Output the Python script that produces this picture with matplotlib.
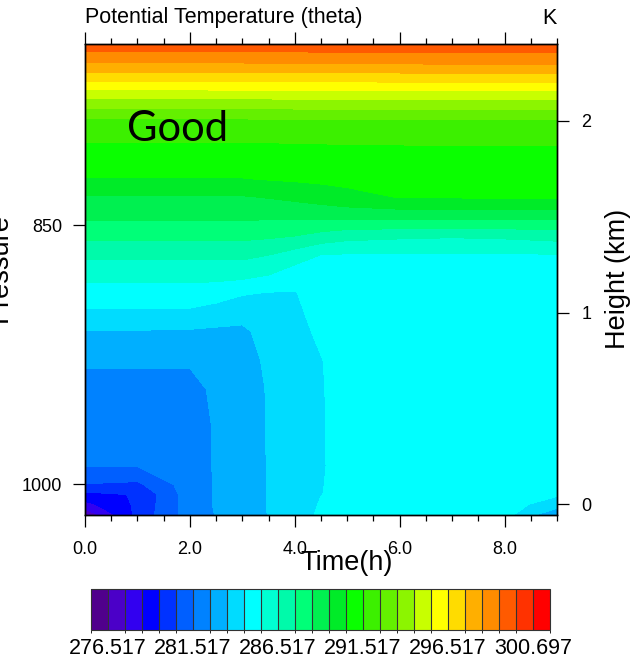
import matplotlib
matplotlib.use("Agg")
import matplotlib as mpl
import matplotlib.pyplot as plt
import numpy as np
from matplotlib.colors import ListedColormap, BoundaryNorm
from matplotlib.ticker import MultipleLocator

plt.rcParams['font.family'] = ['Liberation Sans', 'DejaVu Sans']

# ---------------- data ----------------
times = [0, 1, 2, 2.5, 3, 3.5, 4, 4.5, 5, 6, 7, 8, 9]          # hours
heights = [-0.06, 0.0, 0.05, 0.1, 0.2, 0.4, 0.6, 0.75, 0.9, 1.0, 1.1, 1.2,
           1.3, 1.4, 1.5, 1.6, 1.7, 1.8, 1.9, 2.0, 2.1, 2.2, 2.3, 2.41]  # km

theta_m006 = [276.6, 279.8, 282.0, 282.55, 282.9, 283.55, 284.0, 284.7, 284.7, 284.7, 284.7, 284.9, 282.4]
theta_000 = [278.24, 279.7, 282.02, 282.6, 283.0, 283.57, 283.95, 284.6, 284.72, 284.72, 284.72, 284.8, 284.2]
theta_005 = [279.2, 279.6, 282.05, 282.6, 283.0, 283.57, 283.9, 284.5, 284.75, 284.75, 284.75, 284.8, 284.6]
theta_010 = [280.45, 280.3, 282.05, 282.6, 283.0, 283.57, 283.9, 284.48, 284.78, 284.78, 284.78, 284.8, 284.75]
theta_020 = [281.54, 281.55, 282.08, 282.6, 283.0, 283.57, 283.9, 284.45, 284.8, 284.8, 284.8, 284.82, 284.8]
theta_040 = [281.92, 281.92, 282.1, 282.6, 283.0, 283.58, 283.95, 284.45, 284.85, 284.85, 284.85, 284.85, 284.85]
theta_060 = [282.3, 282.3, 282.3, 282.65, 283.0, 283.6, 284.0, 284.45, 284.9, 284.9, 284.9, 284.9, 284.9]
theta_075 = [282.6, 282.6, 282.6, 282.85, 283.1, 283.7, 284.1, 284.48, 284.95, 284.95, 284.95, 284.95, 284.95]
theta_090 = [283.45, 283.45, 283.4, 283.35, 283.35, 283.85, 284.2, 284.7, 285.0, 285.0, 285.0, 285.0, 285.0]
theta_100 = [284.34, 284.34, 284.34, 284.06, 283.82, 284.1, 284.3, 284.9, 285.05, 285.05, 285.05, 285.05, 285.05]
theta_110 = [285.10, 285.10, 285.10, 284.98, 284.6, 284.45, 284.45, 285.08, 285.15, 285.15, 285.15, 285.15, 285.15]
theta_120 = [285.86, 285.86, 285.86, 285.86, 285.86, 285.56, 285.0, 285.29, 285.25, 285.25, 285.25, 285.25, 285.25]
theta_130 = [286.74, 286.74, 286.74, 286.74, 286.74, 286.52, 286.06, 285.49, 285.42, 285.42, 285.43, 285.42, 285.45]
theta_140 = [287.77, 287.77, 287.77, 287.77, 287.77, 287.68, 287.52, 287.18, 286.88, 286.72, 286.63, 286.72, 286.92]
theta_150 = [288.68, 288.68, 288.68, 288.68, 288.68, 288.68, 288.71, 288.74, 288.78, 288.85, 288.84, 288.84, 288.84]
theta_160 = [289.41, 289.41, 289.41, 289.41, 289.41, 289.55, 289.72, 289.95, 290.21, 290.54, 290.55, 290.56, 290.56]
theta_170 = [290.50, 290.50, 290.50, 290.50, 290.50, 290.61, 290.68, 290.75, 290.80, 290.85, 290.87, 290.88, 290.88]
theta_180 = [291.00, 291.00, 291.00, 291.02, 291.04, 291.06, 291.10, 291.13, 291.16, 291.18, 291.20, 291.20, 291.20]
theta_190 = [291.58, 291.58, 291.58, 291.58, 291.58, 291.59, 291.60, 291.61, 291.62, 291.63, 291.64, 291.64, 291.64]
theta_200 = [292.30, 292.30, 292.30, 292.31, 292.32, 292.34, 292.36, 292.38, 292.40, 292.42, 292.42, 292.42, 292.42]
theta_210 = [294.15, 294.15, 294.15, 294.16, 294.17, 294.19, 294.21, 294.23, 294.25, 294.28, 294.28, 294.28, 294.28]
theta_220 = [296.35, 296.35, 296.35, 296.36, 296.37, 296.38, 296.40, 296.42, 296.43, 296.45, 296.45, 296.45, 296.45]
theta_230 = [298.45, 298.45, 298.45, 298.46, 298.47, 298.48, 298.50, 298.52, 298.54, 298.56, 298.58, 298.58, 298.58]
theta_241 = [300.30, 300.30, 300.30, 300.31, 300.32, 300.33, 300.34, 300.36, 300.38, 300.40, 300.40, 300.40, 300.40]

levels = [276.517, 277.517, 278.517, 279.517, 280.517, 281.517, 282.517, 283.517,
          284.517, 285.517, 286.517, 287.517, 288.517, 289.517, 290.517, 291.517,
          292.517, 293.517, 294.517, 295.517, 296.517, 297.517, 298.517, 299.517,
          300.517, 300.697]
cbar_ticks = [276.517, 281.517, 286.517, 291.517, 296.517, 300.697]
cbar_ticklabels = ["276.517", "281.517", "286.517", "291.517", "296.517", "300.697"]

x_ticks = [0, 2, 4, 6, 8]
x_ticklabels = ["0.0", "2.0", "4.0", "6.0", "8.0"]
pressure_ticks = [1000, 850]
pressure_ticklabels = ["1000", "850"]
height_ticks = [0, 1, 2]
height_ticklabels = ["0", "1", "2"]

box_colors = ["#50008c", "#4b00c8", "#3200f0", "#0000ff", "#0032ff", "#005fff",
              "#0082ff", "#00afff", "#00dcff", "#00ffff", "#00ffd2", "#00faaa",
              "#00ff78", "#00f050", "#00eb28", "#0aff00", "#3cf000", "#64f000",
              "#8cf500", "#c8ff00", "#ffff00", "#ffdc00", "#ffaf00", "#ff8c00",
              "#ff5a00", "#ff3200", "#ff0000"]

theta = np.array([theta_m006, theta_000, theta_005, theta_010, theta_020, theta_040,
                  theta_060, theta_075, theta_090, theta_100, theta_110, theta_120,
                  theta_130, theta_140, theta_150, theta_160, theta_170, theta_180,
                  theta_190, theta_200, theta_210, theta_220, theta_230, theta_241])

# pressure <-> height (scale-height relation)
P0, H = 1012.57, 8.325
def z_of_p(p):
    return H * np.log(P0 / np.asarray(p, dtype=float))

W, Hpx = 630, 661
fig = plt.figure(figsize=(W / 100, Hpx / 100), dpi=100)
ax = fig.add_axes([85 / W, 1 - 515 / Hpx, 472 / W, 471 / Hpx])

ax.contourf(times, heights, theta, levels=levels, colors=box_colors[1:26])
ax.set_xlim(0, 9)
ax.set_ylim(-0.057, 2.402)

ax.set_xticks(x_ticks)
ax.set_xticklabels(x_ticklabels)
ax.xaxis.set_minor_locator(MultipleLocator(0.5))
ax.tick_params(axis='x', which='major', direction='out', length=8.5, width=0.9,
               top=True, bottom=True, labeltop=False, labelsize=13, pad=10)
ax.tick_params(axis='x', which='minor', direction='out', length=4.3, width=0.9,
               top=True, bottom=True)

ax.set_yticks(z_of_p(pressure_ticks))
ax.set_yticklabels(pressure_ticklabels)
ax.tick_params(axis='y', which='major', direction='out', length=8.5, width=0.9,
               left=True, right=False, labelsize=13, pad=8)

ax2 = ax.twinx()
ax2.set_ylim(ax.get_ylim())
ax2.set_yticks(height_ticks)
ax2.set_yticklabels(height_ticklabels)
ax2.tick_params(axis='y', which='major', direction='out', length=8.5, width=0.9,
                left=False, right=True, labelleft=False, labelright=True,
                labelsize=13, pad=9)
for a in (ax, ax2):
    for s in a.spines.values():
        s.set_linewidth(1.0)

# texts
fig.text(85 / W, 1 - 18 / Hpx, "Potential Temperature (theta)", fontsize=15.5,
         ha='left', va='center')
fig.text(557 / W, 1 - 18 / Hpx, "K", fontsize=15.5, ha='right', va='center')
fig.text(127 / W, 1 - 141 / Hpx, "Good", fontsize=30, family=['Lato', 'DejaVu Sans'],
         ha='left', va='baseline')
fig.text(347 / W, 1 - 563 / Hpx, "Time(h)", fontsize=19.5, ha='center', va='center')
fig.text(618 / W, 1 - 279 / Hpx, "Height (km)", fontsize=19.5, rotation=90,
         ha='center', va='center')
fig.text(13 / W, 1 - 268 / Hpx, "Pressure", fontsize=19.5, rotation=90,
         ha='right', va='center')

# colorbar
cax = fig.add_axes([91 / W, 1 - 630 / Hpx, 459 / W, 41 / Hpx])
bounds = [275.517] + levels + [301.697]
cb = mpl.colorbar.ColorbarBase(cax, cmap=ListedColormap(box_colors),
                               norm=BoundaryNorm(bounds, len(box_colors)),
                               boundaries=bounds, spacing='uniform',
                               orientation='horizontal', drawedges=True,
                               ticks=cbar_ticks)
cb.ax.set_xticklabels(cbar_ticklabels)
cb.ax.tick_params(length=0, labelsize=15.5, pad=6)
cb.dividers.set_color('#333333')
cb.dividers.set_linewidth(0.8)
cb.outline.set_linewidth(0.8)
cb.outline.set_edgecolor('#333333')

fig.savefig("out.png", dpi=100)
